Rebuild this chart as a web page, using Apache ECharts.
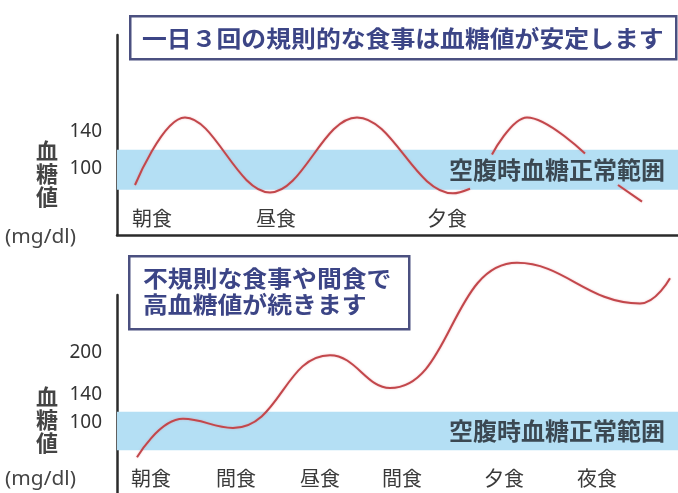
<!DOCTYPE html>
<html><head><meta charset="utf-8">
<script src="https://cdn.jsdelivr.net/npm/echarts@6/dist/echarts.min.js"></script>
<style>html,body{margin:0;padding:0;background:#fff}#c{width:678px;height:493px}</style>
</head><body><div id="c"></div>
<script>
// ---- texts ----
const topTitle = '一日３回の規則的な食事は血糖値が安定します';
const bottomTitle = ['不規則な食事や間食で', '高血糖値が続きます'];
const bandLabel = '空腹時血糖正常範囲';
const yName = '血\n糖\n値';
const unitText = '(mg/dl)';

// ---- x tick labels (meal times, position along the day) ----
const topMealPos = [35, 159, 330];
const topMealLabels = ['朝食', '昼食', '夕食'];
const bottomMealPos = [34, 119, 203, 285, 387, 480];
const bottomMealLabels = ['朝食', '間食', '昼食', '間食', '夕食', '夜食'];

// ---- y tick labels ----
const topYTicks = [100, 140];
const bottomYTicks = [100, 140, 200];

// ---- fasting normal range bands ----
const topBand = [77, 120];
const bottomBand = [61, 116];

// ---- regular meals curve ('-' = hidden behind band label) ----
const topTime = [18, 68, 153, 240, 336, 353, 364, 375, 410, 468, 484, 501, 525];
const topGlucose = [82, 155, 74, 155, 73, 78, '-', 115, 155, 116, '-', 82, 64];

// ---- irregular meals curve ----
const bottomTime = [20, 66, 116, 213, 273, 400, 523, 553];
const bottomGlucose = [51, 106, 93, 197, 150, 329, 271, 307];

const CJK = '"Noto Sans CJK JP", "Noto Sans", sans-serif';
const NUM = '"Noto Sans", "Open Sans", sans-serif';
const lineColor = '#c2474b';
const bandColor = '#b4dff4';
const navy = '#3c4586';

function pairs(xs, ys) { return xs.map((x, i) => [x, ys[i]]); }

const chart = echarts.init(document.getElementById('c'), null, { renderer: 'canvas' });

function xAxisFor(gridIndex, pos, labels, showLine, margin) {
  return {
    type: 'value', gridIndex, min: 0, max: 561,
    splitLine: { show: false }, axisTick: { show: false },
    axisLine: { show: showLine, onZero: false, lineStyle: { color: '#2b2b2b', width: 2.5 } },
    axisLabel: {
      inside: true, margin, customValues: pos,
      fontFamily: CJK, fontSize: 20, color: '#3a3a3a',
      formatter: v => labels[pos.indexOf(v)] || ''
    }
  };
}
function yAxisFor(gridIndex, min, max, ticks) {
  return {
    type: 'value', gridIndex, min, max,
    splitLine: { show: false }, axisTick: { show: false },
    axisLine: { show: true, lineStyle: { color: '#2b2b2b', width: 2.5 } },
    axisLabel: {
      customValues: ticks, margin: 15,
      fontFamily: NUM, fontSize: 19, color: '#333'
    }
  };
}
function bandArea(band) {
  return {
    silent: true,
    itemStyle: { color: bandColor },
    label: {
      show: true, position: 'insideRight', distance: 13,
      fontFamily: CJK, fontSize: 24, fontWeight: 'bold', color: '#3b4852'
    },
    data: [[{ yAxis: band[0], name: bandLabel }, { yAxis: band[1] }]]
  };
}
const lineStyle = { color: lineColor, width: 2, shadowColor: 'rgba(230,120,130,0.5)', shadowBlur: 2 };

const option = {
  animation: false,
  backgroundColor: '#ffffff',
  grid: [
    { left: 117, right: 0, top: 35, height: 200 },
    { left: 117, right: 0, top: 295, bottom: 0 }
  ],
  xAxis: [
    xAxisFor(0, topMealPos, topMealLabels, true, 7),
    xAxisFor(1, bottomMealPos, bottomMealLabels, false, 5)
  ],
  yAxis: [
    yAxisFor(0, 28, 244, topYTicks),
    yAxisFor(1, 0, 283, bottomYTicks)
  ],
  series: [
    {
      type: 'line', xAxisIndex: 0, yAxisIndex: 0, smooth: 0.38, clip: false,
      showSymbol: false, connectNulls: false, lineStyle,
      data: pairs(topTime, topGlucose),
      markArea: bandArea(topBand), z: 3
    },
    {
      type: 'line', xAxisIndex: 1, yAxisIndex: 1, smooth: 0.45, clip: false,
      showSymbol: false, lineStyle,
      data: pairs(bottomTime, bottomGlucose),
      markArea: bandArea(bottomBand), z: 3
    }
  ],
  graphic: [
    // top title box
    { type: 'rect', left: 129, top: 15, z: 10,
      shape: { width: 546, height: 43 },
      style: { fill: '#fff', stroke: '#4b5080', lineWidth: 2.5 } },
    { type: 'text', x: 142, y: 38, z: 11, scaleX: 1.08,
      style: { text: topTitle, font: 'bold 23px ' + CJK, fill: navy, verticalAlign: 'middle' } },
    // bottom title box
    { type: 'rect', left: 128, top: 255, z: 10,
      shape: { width: 280, height: 73 },
      style: { fill: '#fff', stroke: '#4b5080', lineWidth: 2.5 } },
    { type: 'text', x: 143, y: 278, z: 11, scaleX: 1.08,
      style: { text: bottomTitle[0], font: 'bold 23px ' + CJK, fill: navy, verticalAlign: 'middle' } },
    { type: 'text', x: 143, y: 304, z: 11, scaleX: 1.08,
      style: { text: bottomTitle[1], font: 'bold 23px ' + CJK, fill: navy, verticalAlign: 'middle' } },
    // y-axis names
    { type: 'text', x: 47, y: 174, z: 11,
      style: { text: yName, font: 'bold 22px ' + CJK, lineHeight: 23, fill: '#444', align: 'center', verticalAlign: 'middle' } },
    { type: 'text', x: 47, y: 420, z: 11,
      style: { text: yName, font: 'bold 22px ' + CJK, lineHeight: 23, fill: '#444', align: 'center', verticalAlign: 'middle' } },
    { type: 'text', x: 5, y: 238, z: 11, scaleX: 1.1,
      style: { text: unitText, font: '19px ' + NUM, fill: '#444', verticalAlign: 'middle' } },
    { type: 'text', x: 5, y: 480, z: 11, scaleX: 1.1,
      style: { text: unitText, font: '19px ' + NUM, fill: '#444', verticalAlign: 'middle' } }
  ]
};
chart.setOption(option);
</script>
</body></html>
